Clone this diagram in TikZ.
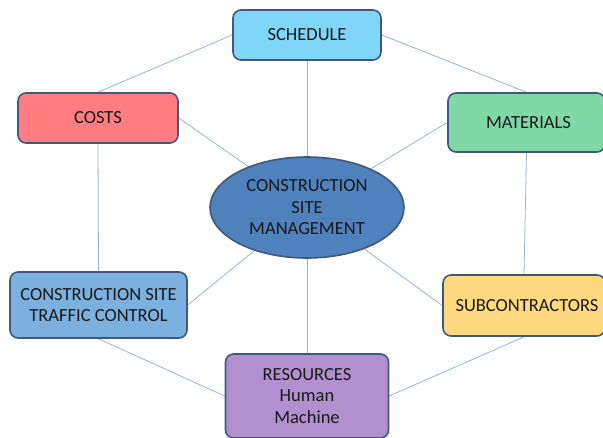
\documentclass[tikz,border=0pt]{standalone}
\usepackage{fontspec}
\setmainfont{Carlito}
\usetikzlibrary{shapes.geometric,backgrounds}
\definecolor{edgeblue}{HTML}{41587A}
\definecolor{linkblue}{HTML}{95B3D7}
\definecolor{fsched}{HTML}{7FD6F7}
\definecolor{fcosts}{HTML}{FF7C80}
\definecolor{fmat}{HTML}{80D8A8}
\definecolor{fcore}{HTML}{4F81BD}
\definecolor{ftraffic}{HTML}{7BB0DF}
\definecolor{fsub}{HTML}{FFD980}
\definecolor{fres}{HTML}{B290CF}
\begin{document}
\begin{tikzpicture}[x=1pt,y=-1pt,
  box/.style={draw=edgeblue,line width=1.6pt,rounded corners=8pt,inner sep=0pt,
    align=center,font=\fontsize{18.5}{21.5}\selectfont,text=black!90},
  hub/.style={ellipse,draw=edgeblue,line width=1.6pt,fill=fcore,inner sep=0pt,
    align=center,font=\fontsize{18.5}{21.5}\selectfont,text=black!90},
  link/.style={draw=linkblue,line width=0.8pt}]
\useasboundingbox (0,0) rectangle (603,437);
\begin{scope}
\clip (0,0) rectangle (603,437);
\node[hub,minimum width=194pt,minimum height=101pt] (core) at (307,207.5)
  {CONSTRUCTION\\SITE\\MANAGEMENT};
\node[box,fill=fsched,minimum width=148pt,minimum height=50pt] (sched) at (307,35) {SCHEDULE};
\node[box,fill=fcosts,minimum width=160pt,minimum height=50pt] (costs) at (98,118) {COSTS};
\node[box,fill=fmat,minimum width=157pt,minimum height=59pt] (mat) at (526.5,122.5) {\hspace*{4pt}MATERIALS};
\node[box,fill=ftraffic,minimum width=177pt,minimum height=66pt] (traffic) at (98.5,305) {CONSTRUCTION SITE\\TRAFFIC CONTROL};
\node[box,fill=fsub,minimum width=162pt,minimum height=61pt] (sub) at (524,305.5) {\hspace*{6pt}SUBCONTRACTORS};
\node[box,fill=fres,minimum width=163pt,minimum height=84pt] (res) at (307,396) {RESOURCES\\Human\\Machine};
\begin{scope}[on background layer]
  % outer ring
  \draw[link] (sched.west) -- (costs.north);
  \draw[link] (sched.east) -- (mat.north);
  \draw[link] (costs.south) -- (traffic.north);
  \draw[link] (mat.south) -- (sub.north);
  \draw[link] (traffic.south) -- (res.west);
  \draw[link] (sub.south) -- (res.east);
  % spokes from the hub
  \draw[link] (core.center) -- (sched.south);
  \draw[link] (core.center) -- (costs.east);
  \draw[link] (core.center) -- (mat.west);
  \draw[link] (core.center) -- (traffic.east);
  \draw[link] (core.center) -- (sub.west);
  \draw[link] (core.center) -- (res.north);
\end{scope}
\end{scope}
\end{tikzpicture}
\end{document}
